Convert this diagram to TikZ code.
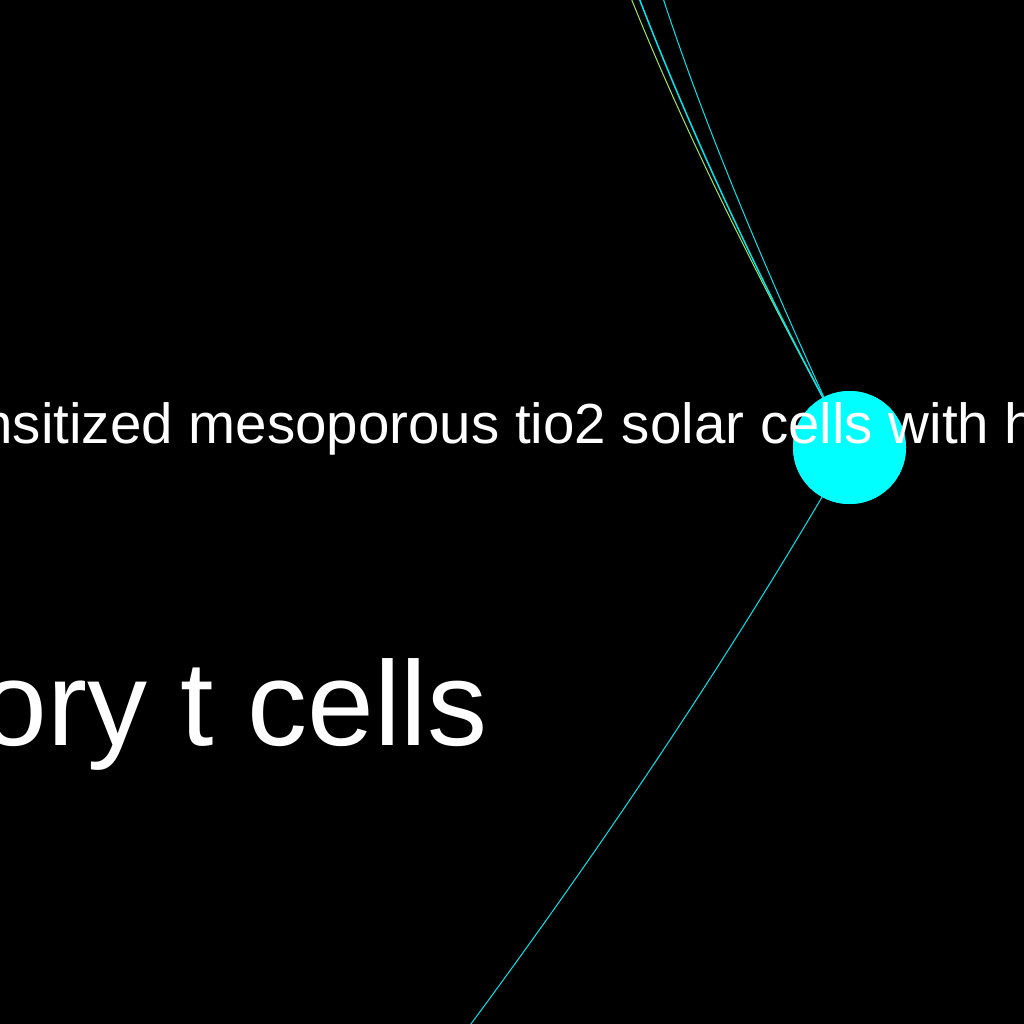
\documentclass[tikz,border=0pt]{standalone}
\usepackage{fontspec}
\setmainfont{Liberation Sans}
\definecolor{nodecyan}{RGB}{0,255,255}
\definecolor{linecyan}{RGB}{0,230,240}
\definecolor{linegreen}{RGB}{160,230,90}
\begin{document}
\begin{tikzpicture}[x=1pt,y=-1pt,
  edgeline/.style={line width=1pt},
  hubnode/.style={circle,fill=nodecyan,minimum size=113pt,inner sep=0pt},
  label/.style={text=white,inner sep=0pt,outer sep=0pt,anchor=base west}]
\useasboundingbox (0,0) rectangle (1024,1024);
\fill[black] (0,0) rectangle (1024,1024);
\clip (0,0) rectangle (1024,1024);
% free ends of connectors
\coordinate (g1) at (631,-2);
\coordinate (c1) at (639,-2);
\coordinate (c2) at (663,-2);
\coordinate (c3) at (465,1032);
% the node
\node[hubnode] (hub) at (849.5,447.5) {};
% connectors
\draw[edgeline,linegreen] (g1) .. controls (684,130) and (753,268) .. (hub.118);
\draw[edgeline,linecyan,line width=1.5pt] (c1) .. controls (690,130) and (754,268) .. (hub.118);
\draw[edgeline,linecyan] (c2) .. controls (706,130) and (766,269) .. (hub.117);
\draw[edgeline,linecyan] (hub.241) .. controls (717,675) and (597,854) .. (c3);
% node drawn again above the connector ends
\node[hubnode] at (hub.center) {};
% labels
\node[label,font=\fontsize{56.5}{60}\selectfont] (t1) at (-18.6,443.5) {nsitized mesoporous tio2 solar cells with h};
\node[label,font=\fontsize{120}{130}\selectfont] (t2) at (-19.3,745) {ory t cells};
\end{tikzpicture}
\end{document}
